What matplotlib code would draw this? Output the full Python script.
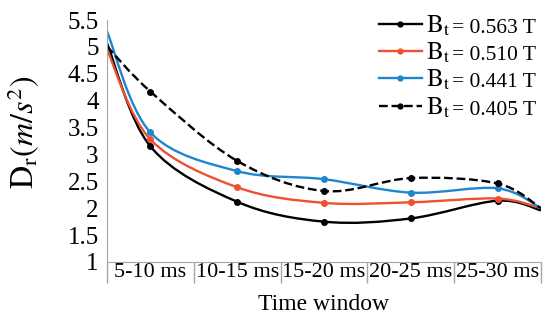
import numpy as np
import matplotlib.pyplot as plt
from matplotlib.path import Path
from matplotlib.patches import PathPatch
from matplotlib.lines import Line2D

plt.rcParams['font.family'] = 'Liberation Serif'
plt.rcParams['mathtext.fontset'] = 'stix'

# categories and data
windows = ['5-10 ms', '10-15 ms', '15-20 ms', '20-25 ms', '25-30 ms']
x_pos = [0, 0.5, 1.5, 2.5, 3.5, 4.5, 5]   # axis start, window centres, axis end
dr_0563 = [5.07, 3.15, 2.12, 1.75, 1.81, 2.14, 1.96]
dr_0510 = [4.95, 3.28, 2.39, 2.10, 2.11, 2.18, 2.00]
dr_0441 = [5.29, 3.41, 2.69, 2.54, 2.29, 2.37, 2.00]
dr_0405 = [5.01, 4.17, 2.88, 2.32, 2.56, 2.46, 2.00]
bt_values = ['0.563', '0.510', '0.441', '0.405']


def smooth_path(x, y):
    '''
    Bezier path through the points (excel-like smoothed line)
    '''
    pts = np.column_stack([x, y]).astype(float)
    n = len(pts)
    verts = [pts[0]]
    codes = [Path.MOVETO]
    for i in range(n - 1):
        p0 = pts[max(i - 1, 0)]
        p1 = pts[i]
        p2 = pts[i + 1]
        p3 = pts[min(i + 2, n - 1)]
        verts += [p1 + (p2 - p0) / 6, p2 - (p3 - p1) / 6, p2]
        codes += [Path.CURVE4] * 3
    return Path(verts, codes)


fig = plt.figure(figsize=(5.5, 3.2), dpi=100)
ax = fig.add_axes([107 / 550, 1 - 262 / 320, 434 / 550, 242 / 320])

series = [
    (dr_0563, 'black', '-'),
    (dr_0510, '#ef5030', '-'),
    (dr_0441, '#1f86cc', '-'),
    (dr_0405, 'black', '--'),
]

handles = []
for vals, col, ls in series:
    ax.add_patch(PathPatch(smooth_path(x_pos, vals), facecolor='none', edgecolor=col,
                           lw=1.7, linestyle=ls, transform=ax.transData))
    ax.plot(x_pos[1:-1], vals[1:-1], 'o', ms=4, color=col)
    handles.append(Line2D([], [], color=col, lw=1.7, ls=ls, marker='o', ms=3.5))

ax.set_xlim(0, 5)
ax.set_ylim(1, 5.5)

ax.set_xticks(np.arange(5) + 0.5)
ax.set_xticklabels(windows, fontsize=16)
ax.set_xticks(np.arange(6), minor=True)
ax.tick_params(axis='x', which='major', length=0, pad=1)
ax.tick_params(axis='x', which='minor', length=15, width=1, color='#a6a6a6')

yt = np.arange(1, 5.51, 0.5)
ax.set_yticks(yt)
ax.set_yticklabels(['%g' % v for v in yt], fontsize=18)
ax.tick_params(axis='y', length=0, pad=6)

for s in ['top', 'right']:
    ax.spines[s].set_visible(False)
for s in ['left', 'bottom']:
    ax.spines[s].set_color('#a6a6a6')

ax.set_xlabel('Time window', fontsize=17, labelpad=5)
ax.set_ylabel(r'$\mathrm{D}_{\mathrm{r}}(m/s^2)$', fontsize=23)
ax.yaxis.set_label_coords(-0.15, 0.535)

leg = ax.legend(handles, [r'$\mathrm{B}_{\mathrm{t}}$'] * 4, loc='upper left',
                bbox_to_anchor=(366 / 550, 1 - 1 / 320), bbox_transform=fig.transFigure,
                frameon=False, fontsize=18, handlelength=1.75, handletextpad=0.15,
                labelspacing=0.12, borderpad=0)

# rest of the legend label, placed after the legend is laid out
fig.canvas.draw()
for txt, v in zip(leg.get_texts(), bt_values):
    bb = txt.get_window_extent()
    fig.text(bb.x1 + 2, bb.y0 + 5, '= %s T' % v, fontsize=15.5,
             va='baseline', ha='left', transform=None)

fig.savefig('out.png', dpi=100)
